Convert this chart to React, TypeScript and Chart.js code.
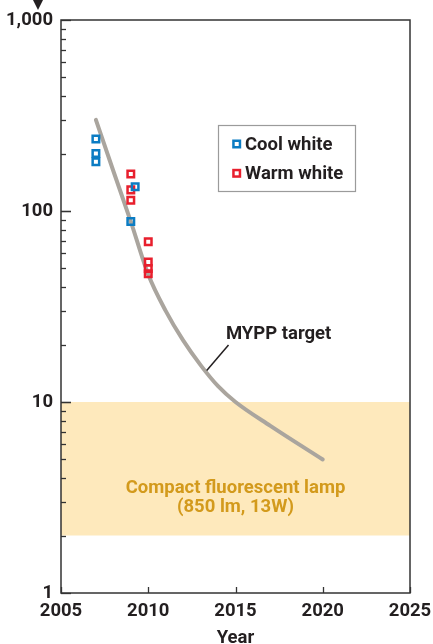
import React, { useEffect, useRef } from "react";
import { Chart, registerables } from "chart.js";

Chart.register(...registerables);

// ---- Data ----
const xTickYears = [2005, 2010, 2015, 2020, 2025];
const yTickValues = [1, 10, 100, 1000];
const coolYears = [2007, 2007, 2007, 2009.25, 2009];
const coolValues = [238, 200, 181, 134, 88];
const warmYears = [2009, 2009, 2009, 2010, 2010, 2010, 2010];
const warmValues = [156, 129, 114, 69, 54, 50, 47];
const targetYears = [2007, 2008, 2009, 2010, 2011, 2012, 2013, 2014, 2015, 2017, 2020];
const targetValues = [300, 162, 88, 46.5, 30, 21, 15.6, 12.1, 10, 7.5, 5];
const cflRange = [2, 10];
const legendLabels = ["Cool white", "Warm white"];
const cflText = ["Compact fluorescent lamp", "(850 lm, 13W)"];
const cflTextPos = { x: 2015, y: [3.55, 2.8] };
const targetLabel = "MYPP target";
const targetLeader = { from: [2013.35, 14.6], to: [2014.6, 19.9], text: [2014.45, 22.5] };

const COOL = "#0b7cc3";
const WARM = "#e81f2d";
const LINE = "#aaa59e";
const AXIS = "#333333";
const TEXT = "#231f20";
const BAND = "#fee9bc";
const BAND_TEXT = "#d39a1c";
const FAMILY = 'Roboto, "DejaVu Sans", sans-serif';
const font = (s: number) => `bold ${s}px ${FAMILY}`;

const customPlugin = {
  id: "custom",
  beforeDatasetsDraw(chart: any) {
    const { ctx, chartArea, scales } = chart;
    const { left, right } = chartArea;
    const y = scales.y;
    const yTop = y.getPixelForValue(cflRange[1]);
    const yBot = y.getPixelForValue(cflRange[0]);
    ctx.save();
    ctx.fillStyle = BAND;
    ctx.fillRect(left, yTop, right - left, yBot - yTop);
    ctx.restore();
  },
  afterDatasetsDraw(chart: any) {
    const { ctx, chartArea, scales } = chart;
    const { left, right, top, bottom } = chartArea;
    const x = scales.x;
    const y = scales.y;
    ctx.save();

    // CFL text
    ctx.fillStyle = BAND_TEXT;
    ctx.font = font(18.5);
    ctx.textAlign = "center";
    ctx.textBaseline = "middle";
    cflText.forEach((t, i) => {
      ctx.fillText(t, x.getPixelForValue(cflTextPos.x), y.getPixelForValue(cflTextPos.y[i]));
    });

    // frame
    ctx.strokeStyle = AXIS;
    ctx.lineWidth = 1.5;
    ctx.strokeRect(left, top, right - left, bottom - top);

    // y ticks (inside)
    ctx.lineWidth = 1.3;
    for (let d = 1; d < 1000; d *= 10) {
      for (let m = 1; m <= 10; m++) {
        const v = m * d;
        const py = Math.round(y.getPixelForValue(v)) + 0.5;
        const len = m === 1 || m === 10 ? 10 : 5;
        ctx.beginPath();
        ctx.moveTo(left, py);
        ctx.lineTo(left + len, py);
        ctx.stroke();
      }
    }
    // x ticks (inside)
    xTickYears.forEach((yr) => {
      const px = Math.round(x.getPixelForValue(yr)) + 0.5;
      ctx.beginPath();
      ctx.moveTo(px, bottom);
      ctx.lineTo(px, bottom - 6);
      ctx.stroke();
    });

    // arrow above top label
    ctx.fillStyle = TEXT;
    ctx.beginPath();
    ctx.moveTo(33, 0);
    ctx.lineTo(43, 0);
    ctx.lineTo(38, 10);
    ctx.closePath();
    ctx.fill();

    // legend
    const lx = left + 157.5;
    const ly = top + 105.5;
    ctx.strokeStyle = "#9b9b9b";
    ctx.lineWidth = 1.2;
    ctx.strokeRect(lx, ly, 137, 66);
    const colors = [COOL, WARM];
    legendLabels.forEach((lab, i) => {
      const cy = ly + 18.5 + i * 29.3;
      const cx = lx + 18.2;
      ctx.strokeStyle = colors[i];
      ctx.lineWidth = 2.5;
      ctx.strokeRect(cx - 3.25, cy - 3.25, 6.5, 6.5);
      ctx.fillStyle = TEXT;
      ctx.font = font(18.5);
      ctx.textAlign = "left";
      ctx.textBaseline = "middle";
      ctx.fillText(lab, lx + 26.5, cy + 1);
    });

    // MYPP annotation
    ctx.strokeStyle = TEXT;
    ctx.lineWidth = 1.5;
    ctx.beginPath();
    ctx.moveTo(x.getPixelForValue(targetLeader.from[0]), y.getPixelForValue(targetLeader.from[1]));
    ctx.lineTo(x.getPixelForValue(targetLeader.to[0]), y.getPixelForValue(targetLeader.to[1]));
    ctx.stroke();
    ctx.fillStyle = TEXT;
    ctx.font = font(18.5);
    ctx.textAlign = "left";
    ctx.textBaseline = "middle";
    ctx.fillText(targetLabel, x.getPixelForValue(targetLeader.text[0]), y.getPixelForValue(targetLeader.text[1]));

    ctx.restore();
  },
};

export default function App() {
  const ref = useRef<HTMLCanvasElement>(null);
  useEffect(() => {
    document.body.style.margin = "0";
    if (!ref.current) return;
    const pts = (xs: number[], ys: number[]) => xs.map((v, i) => ({ x: v, y: ys[i] }));
    const pointCommon = {
      showLine: false,
      pointStyle: "rect",
      pointRadius: 4.6,
      pointBorderWidth: 2.5,
      pointBackgroundColor: "rgba(255,255,255,0)",
      pointHoverRadius: 4.6,
    };
    const chart = new Chart(ref.current, {
      type: "scatter",
      data: {
        datasets: [
          { label: legendLabels[0], data: pts(coolYears, coolValues), borderColor: COOL, ...pointCommon } as any,
          { label: legendLabels[1], data: pts(warmYears, warmValues), borderColor: WARM, ...pointCommon } as any,
          {
            label: targetLabel,
            data: pts(targetYears, targetValues),
            showLine: true,
            borderColor: LINE,
            borderWidth: 4,
            pointRadius: 0,
            cubicInterpolationMode: "monotone",
            borderCapStyle: "round",
          } as any,
        ],
      },
      options: {
        responsive: false,
        animation: false,
        devicePixelRatio: 1,
        layout: { padding: { left: 0, right: 23, top: 20, bottom: 0 } },
        plugins: { legend: { display: false }, tooltip: { enabled: false } },
        scales: {
          x: {
            type: "linear",
            min: 2005,
            max: 2025,
            grid: { display: false, drawTicks: false },
            border: { display: false },
            afterBuildTicks: (s: any) => {
              s.ticks = xTickYears.map((v) => ({ value: v }));
            },
            afterFit: (s: any) => {
              s.height = 51;
              s.paddingLeft = 0;
              s.paddingRight = 0;
            },
            ticks: {
              autoSkip: false,
              maxRotation: 0,
              padding: 7,
              color: TEXT,
              font: { family: FAMILY, size: 18.5, weight: "bold" },
              callback: (v: any) => String(v),
            },
            title: {
              display: true,
              text: "Year",
              color: TEXT,
              font: { family: FAMILY, size: 18.5, weight: "bold", lineHeight: 1 },
              padding: { top: 0, bottom: -4 },
            },
          },
          y: {
            type: "logarithmic",
            min: 1,
            max: 1000,
            grid: { display: false, drawTicks: false },
            border: { display: false },
            afterBuildTicks: (s: any) => {
              s.ticks = yTickValues.map((v) => ({ value: v }));
            },
            afterFit: (s: any) => {
              s.width = 61;
              s.paddingTop = 0;
              s.paddingBottom = 0;
            },
            ticks: {
              autoSkip: false,
              padding: 8,
              color: TEXT,
              font: { family: FAMILY, size: 18.5, weight: "bold" },
              callback: (v: any) => Number(v).toLocaleString("en-US"),
            },
          },
        },
      } as any,
      plugins: [customPlugin],
    });
    return () => chart.destroy();
  }, []);
  return <canvas ref={ref} width={433} height={644} style={{ display: "block", width: 433, height: 644 }} />;
}
